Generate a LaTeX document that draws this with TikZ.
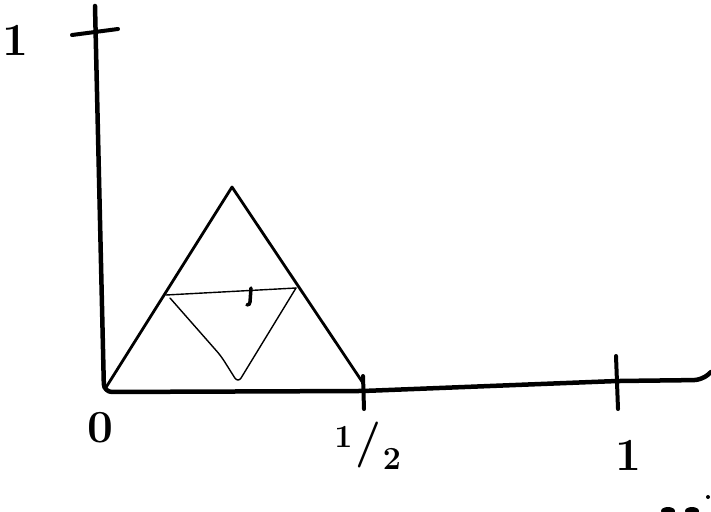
\documentclass[tikz,border=0pt]{standalone}
\usepackage{tikz}
\usetikzlibrary{positioning, calc}

\tikzset{
  axis/.style={line width=4.5pt, line cap=round, line join=round},
  tick/.style={line width=4pt, line cap=round},
  edge/.style={line width=2.8pt, line cap=round, line join=round},
  inner/.style={line width=1.4pt, line cap=round, line join=round},
  lbl/.style={font=\fontsize{46}{46}\selectfont\bfseries, inner sep=0pt}
}

\begin{document}
\begin{tikzpicture}[x=1pt, y=-1pt]
                \useasboundingbox (0,0) rectangle (711,511);

                % axes
                \coordinate (ytop) at (95,6);
                \coordinate (origin) at (104,392);
                \coordinate (xend) at (711,372);
                \draw[axis, rounded corners=8pt] (ytop) -- (origin) -- (363,391) -- (617,381) -- (702,380) -- (xend);

                % ticks
                \draw[tick] (72,35) -- (118,29);
                \draw[tick] (363,376) -- (364,409);
                \draw[tick] (616,356) -- (618,409);

                % triangle
                \coordinate (a) at (105,389);
                \coordinate (apex) at (232,187);
                \coordinate (b) at (363,383);
                \draw[edge] (a) -- (apex) -- (b);

                % inner triangle
                \coordinate (l) at (166,295);
                \coordinate (r) at (296,288);
                \coordinate (v) at (238,383);
                \draw[inner] (l) -- (r);
                \draw[inner, rounded corners=6pt] (170,298) -- (221,356) -- (v) -- (r);
                \draw[line width=3.5pt, line cap=round] (251,288) -- (250,302) to[out=-90,in=0] (247,305);

                % labels
                \node[lbl] (one-y) at (15,40) {1};
                \node[lbl] (zero) at (100,428) {0};
                \node[lbl] (half) at (368,446) {\textsuperscript{1}\kern2pt/\kern2pt\textsubscript{2}};
                \node[lbl] (one-x) at (628,455) {1};

                % cut-off marks
                \fill (668,511) ellipse (7pt and 4pt);
                \fill (692,511) ellipse (7pt and 4pt);
                \fill (708,497) circle (2pt);
            \end{tikzpicture}
\end{document}
